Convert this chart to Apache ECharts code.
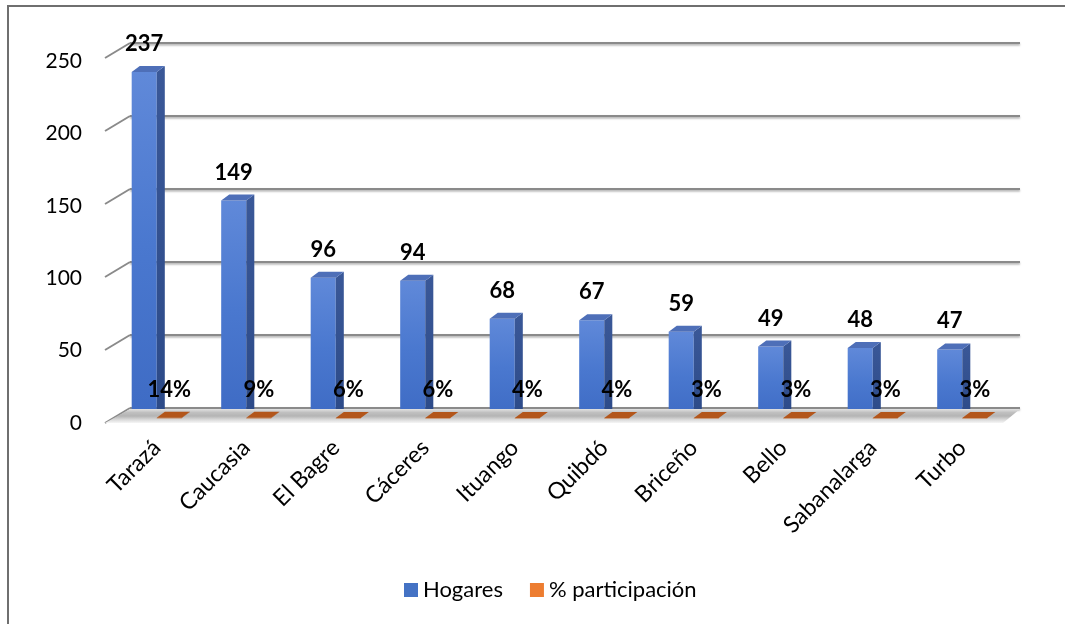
<!DOCTYPE html>
<html>
<head>
<meta charset="utf-8">
<script src="https://cdn.jsdelivr.net/npm/echarts@6/dist/echarts.min.js"></script>
<style>
  html, body { margin: 0; padding: 0; background: #fff; }
  #frame { position: absolute; left: 7px; top: 5px; width: 1100px; height: 700px;
           border-left: 2px solid #6f6f6f; border-top: 2px solid #6f6f6f; }
  #chart { position: absolute; left: 0; top: 0; width: 1065px; height: 624px; }
</style>
</head>
<body>
<div id="frame"></div>
<div id="chart"></div>
<script>
// Municipios y número de hogares
const categories = ['Tarazá', 'Caucasia', 'El Bagre', 'Cáceres', 'Ituango', 'Quibdó', 'Briceño', 'Bello', 'Sabanalarga', 'Turbo'];
const hogares = [237, 149, 96, 94, 68, 67, 59, 49, 48, 47];
const participacion = [0.14, 0.09, 0.06, 0.06, 0.04, 0.04, 0.03, 0.03, 0.03, 0.03];
const yTicks = [0, 50, 100, 150, 200, 250];

const FONT = 'Lato, "Noto Sans", sans-serif';
const DEPTH_X = 25, DEPTH_Y = 15;   // wall depth (front edge -> back wall)

function lg(stops, x2, y2) {
  return new echarts.graphic.LinearGradient(0, 0, x2, y2,
    stops.map((c, i) => ({ offset: i / (stops.length - 1), color: c })));
}

// one pseudo-3D column: front face, right side, top face
function column(api, offsetSide, faces, labelText) {
  const i = api.value(0), v = api.value(1);
  const top = api.coord([i, v]);
  const base = api.coord([i, 0]);
  const band = api.size([1, 0])[0];
  const w = band * 0.28, dx = band * 0.09, dy = 6;
  const x0 = offsetSide < 0 ? top[0] - w : top[0];
  const x1 = x0 + w;
  const yt = top[1], yb = base[1];
  const children = [
    { type: 'rect', shape: { x: x0, y: yt, width: w, height: Math.max(yb - yt, 0.5) },
      style: { fill: faces.front } },
    { type: 'polygon', shape: { points: [[x1, yt], [x1 + dx, yt - dy], [x1 + dx, yb - dy], [x1, yb]] },
      style: { fill: faces.side } },
    { type: 'polygon', shape: { points: [[x0, yt], [x0 + dx, yt - dy], [x1 + dx, yt - dy], [x1, yt]] },
      style: { fill: faces.top } },
    { type: 'text', x: x0 + w / 2, y: yt - 17,
      style: { text: labelText, fill: '#000', font: 'bold 22px ' + FONT, align: 'center', verticalAlign: 'bottom' } }
  ];
  return { type: 'group', children };
}

const chart = echarts.init(document.getElementById('chart'), null, { renderer: 'canvas' });

chart.setOption({
  animation: false,
  backgroundColor: 'transparent',
  textStyle: { fontFamily: FONT },
  grid: [
    // front edge: value labels on the left
    { left: 105, right: 70, top: 61, bottom: 201 },
    // back wall with gridlines
    { left: 130, right: 45, top: 43, bottom: 216 },
    // columns
    { left: 112, right: 58, top: 53, bottom: 206 }
  ],
  xAxis: [
    { gridIndex: 0, type: 'category', data: categories, show: false },
    { gridIndex: 1, type: 'category', data: categories, show: false },
    { gridIndex: 2, type: 'category', data: categories,
      axisLine: { show: false }, axisTick: { show: false },
      axisLabel: { rotate: 45, margin: 26, color: '#000', fontSize: 23, fontFamily: FONT, interval: 0 } }
  ],
  yAxis: [
    { gridIndex: 0, type: 'value', min: 0, max: 250, interval: 50,
      axisLine: { show: false }, axisTick: { show: false }, splitLine: { show: false },
      axisLabel: { margin: 23, color: '#000', fontSize: 21, fontFamily: FONT } },
    { gridIndex: 1, type: 'value', min: 0, max: 250, interval: 50,
      axisLine: { show: false }, axisTick: { show: false }, axisLabel: { show: false },
      splitLine: { lineStyle: { color: '#8a8a8a', width: 2,
        shadowColor: 'rgba(0,0,0,0.35)', shadowBlur: 2, shadowOffsetY: 1.5 } } },
    { gridIndex: 2, type: 'value', min: 0, max: 250, show: false }
  ],
  legend: {
    left: 399, top: 574, itemWidth: 14, itemHeight: 14, itemGap: 27, icon: 'rect',
    textStyle: { fontSize: 22, color: '#000', fontFamily: FONT },
    data: ['Hogares', '% participación']
  },
  series: [
    {
      // slanted side-wall edges joining the labels to the gridlines
      type: 'custom', xAxisIndex: 1, yAxisIndex: 1, z: 1, silent: true,
      data: yTicks.map(v => [0, v]),
      renderItem(params, api) {
        const p = api.coord([0, api.value(1)]);
        const xb = params.coordSys.x;
        return { type: 'line',
          shape: { x1: xb, y1: p[1], x2: xb - DEPTH_X, y2: p[1] + DEPTH_Y },
          style: { stroke: '#8a8a8a', lineWidth: 2 } };
      }
    },
    {
      name: 'Hogares', type: 'custom', xAxisIndex: 2, yAxisIndex: 2, z: 2,
      itemStyle: { color: '#4472c4' },
      data: hogares.map((v, i) => [i, v]),
      renderItem(params, api) {
        return column(api, -1, {
          front: lg(['#6089d9', '#4a78cf', '#3e6bc4'], 0, 1),
          side: lg(['#3a5898', '#2c4a88'], 0, 1),
          top: '#4e6fb8'
        }, String(api.value(1)));
      }
    },
    {
      // floor of the plot
      type: 'custom', xAxisIndex: 1, yAxisIndex: 1, z: 3, silent: true,
      data: [[0, 0]],
      renderItem(params, api) {
        const cs = params.coordSys;
        const y0 = api.coord([0, 0])[1];
        const xl = cs.x, xr = cs.x + cs.width;
        return { type: 'polygon',
          shape: { points: [[xl, y0 + 1], [xr, y0 + 1], [xr - DEPTH_X + 8, y0 + DEPTH_Y], [xl - DEPTH_X, y0 + DEPTH_Y]] },
          style: { fill: lg(['#e2e2e2', '#c0c0c0', '#b4b4b4', '#d8d8d8', '#f6f6f6'], 0, 1) } };
      }
    },
    {
      name: '% participación', type: 'custom', xAxisIndex: 2, yAxisIndex: 2, z: 4,
      itemStyle: { color: '#ed7d31' },
      data: participacion.map((v, i) => [i, v]),
      renderItem(params, api) {
        return column(api, 1, {
          front: '#c8631f', side: '#8a3f10', top: '#b3561b'
        }, Math.round(api.value(1) * 100) + '%');
      }
    }
  ]
});
</script>
</body>
</html>
